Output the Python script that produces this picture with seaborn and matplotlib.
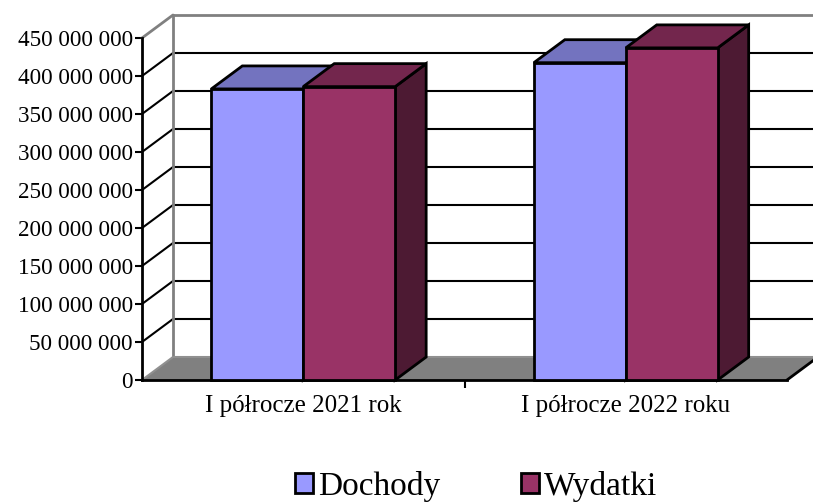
import numpy as np
import pandas as pd
import seaborn as sns
import matplotlib.pyplot as plt
from matplotlib.patches import Polygon, Patch
from matplotlib.ticker import FuncFormatter, MultipleLocator

okresy = ['I półrocze 2021 rok', 'I półrocze 2022 roku']
serie = ['Dochody', 'Wydatki']
dochody = [383_000_000, 417_500_000]
wydatki = [386_000_000, 437_000_000]
kolory = {'Dochody': '#9999FF', 'Wydatki': '#993366'}

df = pd.DataFrame({'okres': okresy * 2,
                   'seria': ['Dochody'] * 2 + ['Wydatki'] * 2,
                   'kwota': dochody + wydatki})

sns.set_style('ticks')
plt.rcParams['font.family'] = ['Liberation Serif', 'DejaVu Serif']
plt.rcParams['text.color'] = 'black'
plt.rcParams['xtick.color'] = 'black'
plt.rcParams['ytick.color'] = 'black'
plt.rcParams['xtick.labelcolor'] = 'black'
plt.rcParams['ytick.labelcolor'] = 'black'

W, H = 813, 503
fig = plt.figure(figsize=(W / 100, H / 100), dpi=100)
# front plane of the 3d box: x 142..787 px, y 380..38 px
ax = fig.add_axes([142 / W, (H - 380) / H, 645 / W, 342 / H])

ymax = 450_000_000
# depth offset of the 3d box (31 px right, 23 px up) in data units
gx = 31 / 645 * 2
gy = 23 / 342 * ymax

sns.barplot(data=df, x='okres', y='kwota', hue='seria', palette=kolory,
            width=0.57, saturation=1, errorbar=None, legend=False,
            edgecolor='black', linewidth=2, ax=ax)
bars = sorted(ax.patches, key=lambda p: p.get_x())

ax.set_xlim(-0.5, 1.5)
ax.set_ylim(0, ymax)

# back wall
for v in np.arange(50_000_000, ymax, 50_000_000):
    ax.plot([-0.5 + gx, 2.0], [v + gy] * 2, color='black', lw=1.5, clip_on=False, zorder=1)
    ax.plot([-0.5, -0.5 + gx], [v, v + gy], color='black', lw=1.5, clip_on=False, zorder=1)
ax.plot([-0.5 + gx, 2.0], [ymax + gy] * 2, color='#808080', lw=2, clip_on=False, zorder=1)
ax.plot([-0.5 + gx] * 2, [gy, ymax + gy], color='#808080', lw=2, clip_on=False, zorder=1)
ax.plot([-0.5, -0.5 + gx], [ymax, ymax + gy], color='#808080', lw=2, clip_on=False, zorder=1)

# floor
floor = Polygon([(-0.5, 0), (1.5, 0), (1.5 + gx, gy), (-0.5 + gx, gy)], closed=True,
                fc='#808080', ec='none', clip_on=False, zorder=1.5)
ax.add_patch(floor)
ax.plot([-0.5 + gx, 1.5 + gx], [gy, gy], color='#909090', lw=1.5, clip_on=False, zorder=1.6)
ax.plot([-0.5, -0.5 + gx], [0, gy], color='#909090', lw=1.5, clip_on=False, zorder=1.6)
ax.plot([1.5, 1.5 + gx], [0, gy], color='black', lw=2, clip_on=False, zorder=1.6)

# 3d bar tops and sides
for i, b in enumerate(bars):
    x0, w, h = b.get_x(), b.get_width(), b.get_height()
    x1 = x0 + w
    c = np.array(b.get_facecolor()[:3])
    side = Polygon([(x1, 0), (x1, h), (x1 + gx, h + gy), (x1 + gx, gy)], closed=True,
                   fc=c * 0.5, ec='black', lw=2, clip_on=False, zorder=3 + 2 * i)
    top = Polygon([(x0, h), (x1, h), (x1 + gx, h + gy), (x0 + gx, h + gy)], closed=True,
                  fc=c * 0.75, ec='black', lw=2, clip_on=False, zorder=3 + 2 * i)
    ax.add_patch(side)
    ax.add_patch(top)
    b.set_zorder(4 + 2 * i)
    b.set_clip_on(False)

ax.yaxis.set_major_locator(MultipleLocator(50_000_000))
ax.yaxis.set_major_formatter(FuncFormatter(lambda v, p: f'{int(v):,}'.replace(',', ' ')))
ax.tick_params(axis='y', length=5, width=1.5, pad=1.5, labelsize=16.7)

ax.set_xticks([0, 1])
ax.set_xticklabels(okresy)
ax.set_xticks([0.5], minor=True)
ax.tick_params(axis='x', which='major', length=0, pad=11, labelsize=18)
ax.tick_params(axis='x', which='minor', length=6, width=1.5)
ax.set_xlabel('')
ax.set_ylabel('')

for s in ['top', 'right']:
    ax.spines[s].set_visible(False)
ax.spines['left'].set_linewidth(2)
ax.spines['bottom'].set_linewidth(2)
ax.spines['left'].set_color('black')
ax.spines['bottom'].set_color('black')
ax.patch.set_alpha(0)

handles = [Patch(fc=kolory[s], ec='black', lw=2, label=s) for s in serie]
fig.legend(handles=handles, loc='center', bbox_to_anchor=(476 / W, 1 - 486 / H), ncol=2,
           frameon=False, fontsize=24, handlelength=0.55, handleheight=0.55,
           handletextpad=0.15, columnspacing=2.4)

fig.savefig('out.png', dpi=100)
